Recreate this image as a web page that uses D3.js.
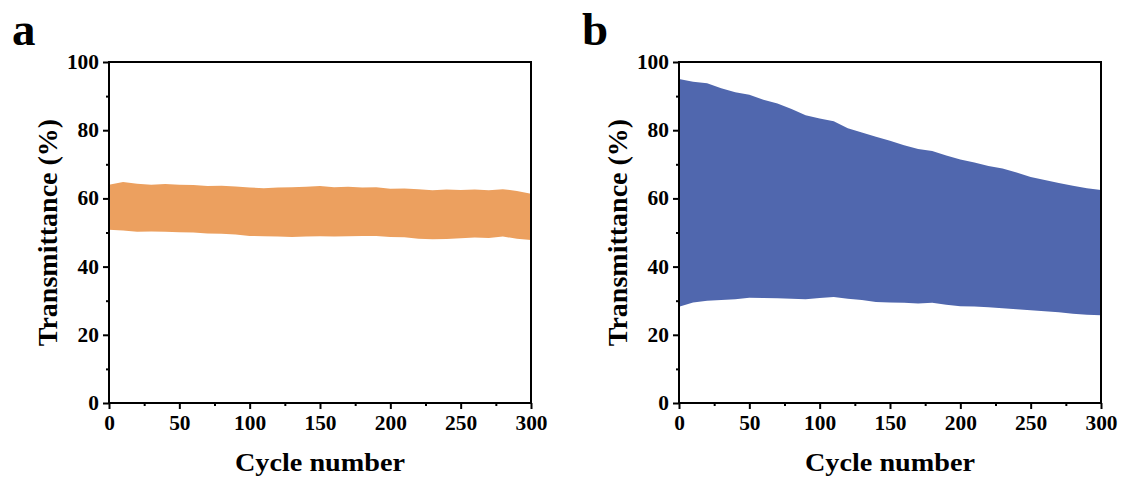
<!DOCTYPE html>
<html>
<head>
<meta charset="utf-8">
<script src="https://cdn.jsdelivr.net/npm/d3@7"></script>
<style>
  body { margin: 0; background: #fff; }
  svg text { font-family: "Liberation Serif", "Times New Roman", serif; font-weight: bold; fill: #000; }
</style>
</head>
<body>
<div id="chart"></div>
<script>
var cycles = [0,10,20,30,40,50,60,70,80,90,100,110,120,130,140,150,160,170,180,190,200,210,220,230,240,250,260,270,280,290,300];

// panel a: upper / lower envelope of the transmittance oscillation (%)
var aUpper = [64.0,64.8,64.3,64.0,64.2,64.0,63.9,63.6,63.7,63.5,63.2,63.0,63.2,63.3,63.4,63.6,63.3,63.4,63.2,63.3,62.8,62.9,62.7,62.4,62.6,62.5,62.6,62.4,62.7,62.2,61.4];
var aLower = [50.8,50.6,50.2,50.3,50.2,50.1,50.0,49.7,49.6,49.4,49.0,48.9,48.8,48.7,48.8,48.9,48.8,48.9,49.0,49.0,48.7,48.6,48.2,48.0,48.1,48.3,48.5,48.4,48.8,48.2,47.8];

// panel b
var bUpper = [95.0,94.2,93.8,92.3,91.1,90.4,88.9,87.8,86.2,84.4,83.4,82.6,80.6,79.3,78.1,76.9,75.6,74.5,73.9,72.6,71.4,70.5,69.5,68.8,67.6,66.3,65.4,64.5,63.7,63.0,62.5];
var bLower = [28.2,29.5,30.0,30.2,30.4,30.9,30.8,30.7,30.6,30.4,30.8,31.1,30.6,30.2,29.6,29.5,29.4,29.2,29.4,28.8,28.4,28.3,28.1,27.8,27.5,27.2,26.9,26.6,26.2,25.9,25.7];

var xTicks = [0,50,100,150,200,250,300],
    xMinor = [25,75,125,175,225,275],
    yTicks = [0,20,40,60,80,100],
    yMinor = [10,30,50,70,90];

var width = 1121, height = 477;
var svg = d3.select("#chart").append("svg")
  .attr("width", width)
  .attr("height", height);

var plotW = 422, plotH = 341, plotTop = 62;

function panel(left, letter, upper, lower, color) {
  var g = svg.append("g")
    .attr("transform", "translate(" + left + "," + plotTop + ")");

  var x = d3.scaleLinear().domain([0, 300]).range([0, plotW]),
      y = d3.scaleLinear().domain([0, 100]).range([plotH, 0]);

  var rows = cycles.map(function (c, i) { return { c: c, hi: upper[i], lo: lower[i] }; });

  var area = d3.area()
    .x(function (d) { return x(d.c); })
    .y0(function (d) { return y(d.lo); })
    .y1(function (d) { return y(d.hi); });

  g.append("path")
    .datum(rows)
    .attr("d", area)
    .attr("fill", color);

  // minor ticks
  g.append("g")
    .attr("transform", "translate(0," + plotH + ")")
    .call(d3.axisBottom(x).tickValues(xMinor).tickSize(3).tickFormat(""))
    .call(function (s) { s.select(".domain").remove(); s.selectAll("line").attr("stroke-width", 2); });
  g.append("g")
    .call(d3.axisLeft(y).tickValues(yMinor).tickSize(3).tickFormat(""))
    .call(function (s) { s.select(".domain").remove(); s.selectAll("line").attr("stroke-width", 2); });

  // major ticks
  var xa = g.append("g")
    .attr("transform", "translate(0," + plotH + ")")
    .call(d3.axisBottom(x).tickValues(xTicks).tickSize(6).tickPadding(7));
  var ya = g.append("g")
    .call(d3.axisLeft(y).tickValues(yTicks).tickSize(6).tickPadding(4));

  [xa, ya].forEach(function (a) {
    a.select(".domain").remove();
    a.selectAll("line").attr("stroke-width", 2);
    a.selectAll("text")
      .attr("font-family", null)
      .attr("font-size", null)
      .style("font-size", "20px")
      .attr("textLength", function (d) { return String(d).length * 10.7; })
      .attr("lengthAdjust", "spacingAndGlyphs");
  });

  // frame
  g.append("rect")
    .attr("width", plotW)
    .attr("height", plotH)
    .attr("fill", "none")
    .attr("stroke", "#000")
    .attr("stroke-width", 2);

  g.append("text")
    .attr("x", plotW / 2)
    .attr("y", plotH + 68)
    .attr("text-anchor", "middle")
    .style("font-size", "25px")
    .attr("textLength", 170)
    .attr("lengthAdjust", "spacingAndGlyphs")
    .text("Cycle number");

  g.append("text")
    .attr("transform", "translate(-52," + (plotH / 2) + ") rotate(-90)")
    .attr("text-anchor", "middle")
    .style("font-size", "28px")
    .text("Transmittance (%)");

  svg.append("text")
    .attr("x", left - 97)
    .attr("y", 45)
    .style("font-size", "47px")
    .text(letter);
}

panel(109, "a", aUpper, aLower, "#ECA05F");
panel(679, "b", bUpper, bLower, "#5067AE");
</script>
</body>
</html>
